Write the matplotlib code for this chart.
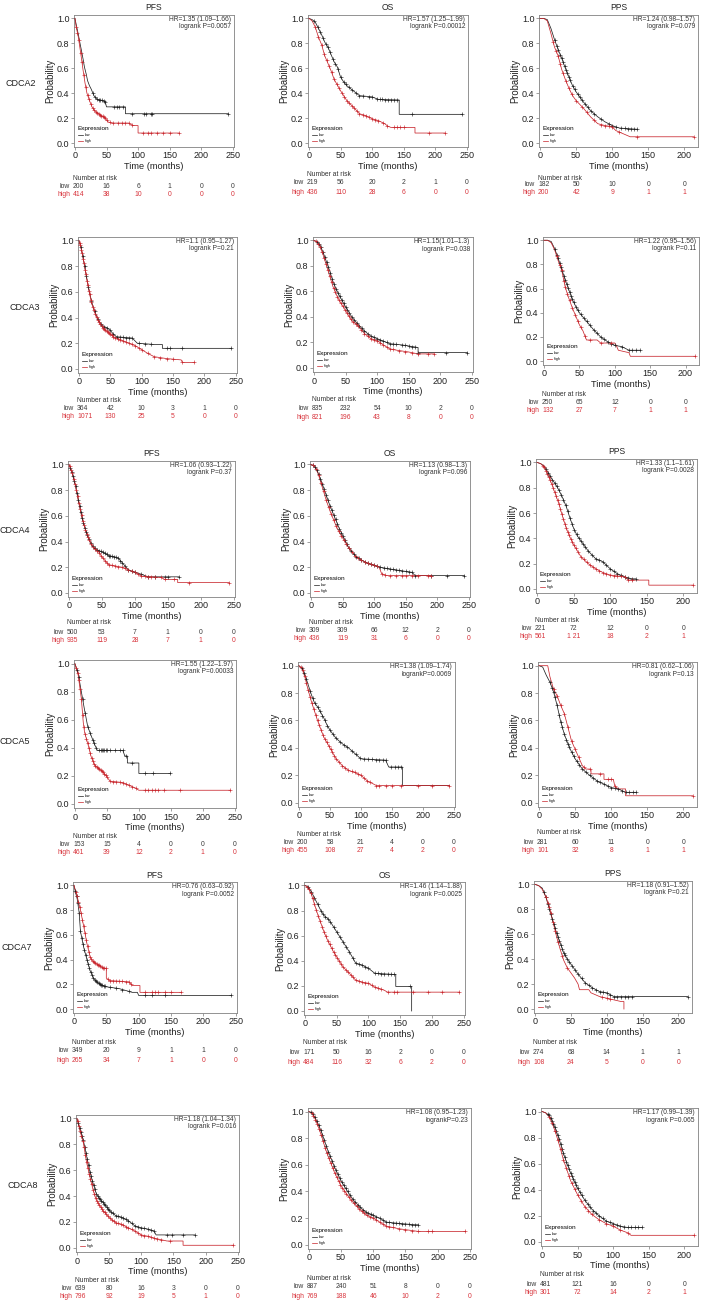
import numpy as np
import matplotlib
matplotlib.use('Agg')
import matplotlib.pyplot as plt
from matplotlib.lines import Line2D

plt.rcParams['font.family'] = ['Liberation Sans', 'DejaVu Sans']

# ---------------- data: (time in months, survival probability) ----------------
GENES = ['CDCA2', 'CDCA3', 'CDCA4', 'CDCA5', 'CDCA7', 'CDCA8']
ENDPOINTS = ['PFS', 'OS', 'PPS']
TICKS_PFS_OS = [0, 50, 100, 150, 200, 250]
TICKS_PPS = [0, 50, 100, 150, 200]

# CDCA2
CDCA2_PFS_low = [(0,1.0),(2,0.95),(5,0.88),(8,0.80),(10,0.75),(13,0.67),(15,0.61),(18,0.55),(20,0.50),(23,0.46),(26,0.43),(30,0.38),(35,0.35),(45,0.34),(48,0.33),(50,0.29),(80,0.29),(80,0.235),(243,0.235)]
CDCA2_PFS_low_cens = [28,32,35,38,40,43,46,48,62,66,70,76,90,110,112,120,122,243]
CDCA2_PFS_high = [(0,1.0),(2,0.93),(5,0.86),(8,0.76),(10,0.69),(13,0.58),(16,0.48),(19,0.40),(23,0.34),(27,0.29),(31,0.26),(36,0.24),(42,0.22),(48,0.20),(52,0.17),(58,0.16),(85,0.16),(88,0.15),(93,0.14),(100,0.14),(100,0.08),(165,0.08)]
CDCA2_PFS_high_cens = [2,4,6,9,11,14,17,20,22,25,28,30,33,35,38,40,42,44,46,48,50,55,60,68,75,80,85,90,108,115,120,130,140,150,165]
CDCA2_PFS_risk_low = [200,16,6,1,0,0]
CDCA2_PFS_risk_high = [414,38,10,0,0,0]
CDCA2_PFS_hr = ["HR=1.35 (1.09\u20131.66)", "logrank P=0.0057"]

CDCA2_OS_low = [(0,1.0),(5,0.99),(10,0.97),(15,0.92),(20,0.87),(25,0.81),(30,0.77),(35,0.71),(40,0.65),(45,0.61),(50,0.53),(55,0.49),(60,0.46),(70,0.42),(80,0.38),(100,0.37),(110,0.35),(143,0.345),(143,0.23),(243,0.23)]
CDCA2_OS_low_cens = [8,14,18,22,27,30,33,38,42,46,50,55,58,63,68,75,80,85,95,100,108,112,116,120,125,130,135,140,163,243]
CDCA2_OS_high = [(0,1.0),(5,0.98),(10,0.93),(15,0.85),(20,0.79),(25,0.70),(30,0.64),(35,0.58),(40,0.51),(50,0.42),(60,0.34),(70,0.29),(80,0.235),(90,0.22),(100,0.195),(110,0.18),(120,0.155),(125,0.135),(130,0.125),(168,0.125),(168,0.08),(215,0.08)]
CDCA2_OS_high_cens = [10,15,20,24,28,32,36,40,44,48,52,56,60,64,68,72,76,80,85,90,95,100,105,110,118,124,135,140,145,150,190,215]
CDCA2_OS_risk_low = [219,56,20,2,1,0]
CDCA2_OS_risk_high = [436,110,28,6,0,0]
CDCA2_OS_hr = ["HR=1.57 (1.25\u20131.99)", "logrank P=0.00012"]

CDCA2_PPS_low = [(0,1.0),(5,1.0),(10,0.99),(15,0.92),(20,0.83),(25,0.75),(30,0.68),(35,0.60),(40,0.53),(45,0.46),(50,0.41),(55,0.37),(60,0.33),(70,0.26),(80,0.21),(90,0.17),(100,0.14),(110,0.12),(135,0.11)]
CDCA2_PPS_low_cens = [20,23,25,28,30,32,34,36,38,40,42,45,48,52,55,58,62,66,70,75,85,95,100,105,112,118,122,126,130,135]
CDCA2_PPS_high = [(0,1.0),(5,1.0),(10,0.98),(15,0.88),(20,0.77),(25,0.70),(30,0.59),(35,0.51),(40,0.44),(45,0.38),(50,0.34),(60,0.28),(70,0.21),(80,0.155),(90,0.14),(100,0.13),(105,0.10),(115,0.075),(125,0.05),(213,0.05)]
CDCA2_PPS_high_cens = [18,22,25,28,32,36,40,44,50,58,65,75,85,90,95,100,110,135,213]
CDCA2_PPS_risk_low = [182,50,10,0,0]
CDCA2_PPS_risk_high = [200,42,9,1,1]
CDCA2_PPS_hr = ["HR=1.24 (0.98\u20131.57)", "logrank P=0.079"]

# CDCA3
CDCA3_PFS_low = [(0,1.0),(3,0.95),(6,0.88),(9,0.80),(12,0.72),(15,0.64),(18,0.57),(21,0.51),(25,0.45),(30,0.39),(35,0.35),(40,0.33),(45,0.32),(50,0.30),(55,0.27),(60,0.25),(85,0.24),(93,0.20),(120,0.19),(133,0.19),(133,0.16),(243,0.16)]
CDCA3_PFS_low_cens = [3,6,9,12,15,20,25,30,35,40,45,50,55,60,65,70,75,80,85,95,105,115,140,145,165,243]
CDCA3_PFS_high = [(0,1.0),(3,0.95),(6,0.88),(9,0.80),(12,0.71),(15,0.63),(18,0.56),(21,0.50),(25,0.44),(30,0.38),(35,0.34),(40,0.31),(45,0.29),(50,0.27),(55,0.25),(65,0.23),(80,0.20),(90,0.18),(100,0.15),(110,0.12),(120,0.095),(140,0.08),(163,0.07),(165,0.05),(183,0.05)]
CDCA3_PFS_high_cens = [1,2,4,5,7,8,10,11,13,14,16,17,19,20,22,24,26,28,30,32,34,36,38,40,42,44,46,48,50,52,55,58,62,66,70,75,80,85,90,95,100,110,120,130,140,150,165,183]
CDCA3_PFS_risk_low = [364,42,10,3,1,0]
CDCA3_PFS_risk_high = [1071,130,25,5,0,0]
CDCA3_PFS_hr = ["HR=1.1 (0.95\u20131.27)", "logrank P=0.21"]

CDCA3_OS_low = [(0,1.0),(5,0.99),(10,0.96),(15,0.90),(20,0.83),(25,0.76),(30,0.68),(35,0.62),(40,0.57),(50,0.48),(60,0.40),(70,0.34),(80,0.29),(90,0.25),(100,0.23),(120,0.19),(140,0.18),(165,0.16),(165,0.12),(243,0.12)]
CDCA3_OS_low_cens = [5,8,11,14,17,20,23,26,29,32,35,38,41,44,47,50,53,56,60,64,68,72,76,80,85,90,95,100,105,110,115,120,125,130,140,145,150,155,160,165,210,243]
CDCA3_OS_high = [(0,1.0),(5,0.99),(10,0.95),(15,0.88),(20,0.80),(25,0.72),(30,0.64),(35,0.58),(40,0.53),(50,0.45),(60,0.37),(70,0.33),(80,0.27),(90,0.23),(100,0.215),(110,0.18),(120,0.15),(130,0.14),(150,0.125),(165,0.11),(190,0.11)]
CDCA3_OS_high_cens = [4,7,10,13,16,19,22,25,28,31,34,37,40,43,46,49,52,55,58,62,66,70,75,80,85,90,95,100,105,110,115,120,125,135,145,155,165,180,190]
CDCA3_OS_risk_low = [835,232,54,10,2,0]
CDCA3_OS_risk_high = [821,196,43,8,0,0]
CDCA3_OS_hr = ["HR=1.15(1.01\u20131.3)", "logrank P=0.038"]

CDCA3_PPS_low = [(0,1.0),(5,1.0),(10,0.99),(15,0.93),(20,0.85),(25,0.76),(30,0.67),(35,0.59),(40,0.51),(45,0.45),(50,0.40),(60,0.33),(70,0.26),(80,0.20),(90,0.16),(100,0.13),(110,0.12),(120,0.09),(135,0.09)]
CDCA3_PPS_low_cens = [15,18,20,22,24,26,28,30,32,34,36,38,40,42,45,48,52,56,60,65,70,75,80,85,90,95,100,110,120,125,130,135]
CDCA3_PPS_high = [(0,1.0),(5,1.0),(10,0.98),(15,0.92),(20,0.83),(25,0.75),(30,0.61),(35,0.52),(40,0.44),(45,0.37),(50,0.30),(55,0.25),(60,0.175),(75,0.175),(80,0.15),(100,0.15),(102,0.13),(105,0.09),(120,0.07),(122,0.04),(213,0.04)]
CDCA3_PPS_high_cens = [18,22,25,28,30,33,36,40,44,48,52,58,65,80,95,213]
CDCA3_PPS_risk_low = [250,65,12,0,0]
CDCA3_PPS_risk_high = [132,27,7,1,1]
CDCA3_PPS_hr = ["HR=1.22 (0.95\u20131.56)", "logrank P=0.11"]

# CDCA4
CDCA4_PFS_low = [(0,1.0),(5,0.93),(10,0.83),(15,0.70),(20,0.58),(25,0.49),(30,0.42),(35,0.37),(40,0.34),(45,0.33),(50,0.32),(60,0.29),(70,0.28),(75,0.27),(80,0.24),(90,0.18),(100,0.16),(110,0.145),(120,0.125),(167,0.125)]
CDCA4_PFS_low_cens = [2,4,6,8,10,12,14,16,18,20,22,24,26,28,30,33,36,39,42,45,48,51,54,57,60,63,66,69,72,75,78,81,85,90,95,100,110,120,130,145,150,167]
CDCA4_PFS_high = [(0,1.0),(5,0.93),(10,0.83),(15,0.70),(20,0.58),(25,0.49),(30,0.42),(35,0.37),(40,0.34),(45,0.32),(50,0.28),(60,0.22),(70,0.21),(80,0.20),(90,0.18),(100,0.16),(110,0.13),(140,0.12),(145,0.105),(165,0.105),(165,0.08),(243,0.08)]
CDCA4_PFS_high_cens = [1,3,5,7,9,11,13,15,17,19,21,23,25,27,29,31,34,37,40,43,46,49,52,55,58,61,65,70,75,80,85,90,95,100,105,110,115,120,125,130,140,145,160,182,243]
CDCA4_PFS_risk_low = [500,53,7,1,0,0]
CDCA4_PFS_risk_high = [935,119,28,7,1,0]
CDCA4_PFS_hr = ["HR=1.06 (0.93\u20131.22)", "logrank P=0.37"]

CDCA4_OS_low = [(0,1.0),(5,0.99),(10,0.95),(15,0.89),(20,0.82),(25,0.75),(30,0.68),(35,0.62),(40,0.56),(45,0.50),(50,0.45),(60,0.35),(70,0.29),(80,0.255),(90,0.23),(100,0.215),(110,0.20),(120,0.19),(140,0.175),(160,0.16),(165,0.135),(243,0.135)]
CDCA4_OS_low_cens = [3,6,9,12,15,18,21,24,27,30,33,36,39,42,45,48,51,54,57,60,64,68,72,76,80,85,90,95,100,105,110,115,120,125,130,135,140,145,150,155,160,165,190,215,243]
CDCA4_OS_high = [(0,1.0),(5,0.99),(10,0.95),(15,0.87),(20,0.79),(25,0.71),(30,0.64),(35,0.58),(40,0.52),(45,0.47),(50,0.43),(60,0.35),(70,0.29),(80,0.255),(90,0.23),(100,0.215),(108,0.20),(112,0.15),(120,0.135),(190,0.135)]
CDCA4_OS_high_cens = [4,8,12,16,20,24,28,32,36,40,44,48,52,56,60,65,70,75,80,85,90,95,100,105,112,118,125,135,145,150,160,170,185,190]
CDCA4_OS_risk_low = [309,309,66,12,2,0]
CDCA4_OS_risk_high = [436,119,31,6,0,0]
CDCA4_OS_hr = ["HR=1.13 (0.98\u20131.3)", "logrank P=0.096"]

CDCA4_PPS_low = [(0,1.0),(5,0.99),(10,0.97),(15,0.92),(20,0.87),(25,0.83),(30,0.78),(35,0.72),(40,0.65),(45,0.56),(50,0.48),(55,0.42),(60,0.38),(70,0.30),(80,0.24),(90,0.215),(100,0.16),(110,0.12),(120,0.095),(130,0.08),(135,0.08)]
CDCA4_PPS_low_cens = [12,15,18,21,24,27,30,33,36,39,42,45,48,51,54,57,60,63,66,70,75,80,85,90,95,100,105,110,115,120,125,130,135]
CDCA4_PPS_high = [(0,1.0),(5,0.99),(10,0.96),(15,0.90),(20,0.83),(25,0.75),(30,0.67),(35,0.57),(40,0.48),(45,0.41),(50,0.35),(60,0.255),(70,0.20),(80,0.16),(90,0.13),(100,0.11),(120,0.095),(125,0.07),(153,0.07),(153,0.03),(213,0.03)]
CDCA4_PPS_high_cens = [8,10,12,14,16,18,20,22,24,26,28,30,32,34,36,38,40,42,44,46,48,50,53,56,60,64,68,72,76,80,85,90,95,100,105,110,115,120,125,130,213]
CDCA4_PPS_risk_low = [221,72,12,0,0]
CDCA4_PPS_risk_high = ['561','1 21','18','2','1']
CDCA4_PPS_hr = ["HR=1.33 (1.1\u20131.61)", "logrank P=0.0028"]

# CDCA5
CDCA5_PFS_low = [(0,1.0),(5,0.93),(10,0.80),(15,0.67),(20,0.55),(25,0.49),(30,0.43),(35,0.38),(75,0.38),(78,0.34),(82,0.34),(82,0.29),(100,0.29),(100,0.215),(148,0.215)]
CDCA5_PFS_low_cens = [3,6,12,16,20,24,28,30,33,38,40,42,44,46,48,50,55,62,70,75,80,90,110,122,148]
CDCA5_PFS_high = [(0,1.0),(5,0.92),(10,0.75),(13,0.58),(15,0.51),(20,0.43),(25,0.34),(30,0.28),(35,0.26),(40,0.24),(45,0.22),(50,0.19),(55,0.16),(75,0.15),(85,0.13),(95,0.11),(100,0.095),(243,0.095)]
CDCA5_PFS_high_cens = [2,4,6,8,10,12,14,16,18,20,22,24,26,28,30,32,34,36,38,40,42,44,46,48,50,55,60,65,70,75,80,85,90,95,110,115,120,125,130,140,165,243]
CDCA5_PFS_risk_low = [153,15,4,0,0,0]
CDCA5_PFS_risk_high = [461,39,12,2,1,0]
CDCA5_PFS_hr = ["HR=1.55 (1.22\u20131.97)", "logrank P=0.00033"]

CDCA5_OS_low = [(0,1.0),(5,0.98),(10,0.93),(15,0.86),(20,0.79),(25,0.73),(30,0.70),(35,0.66),(40,0.62),(45,0.57),(50,0.53),(60,0.47),(70,0.43),(80,0.40),(90,0.36),(100,0.32),(140,0.31),(145,0.26),(167,0.26),(167,0.125),(243,0.125)]
CDCA5_OS_low_cens = [5,8,12,18,22,26,30,34,38,42,46,50,55,60,66,72,78,85,92,98,105,112,118,125,130,135,140,148,155,160,165]
CDCA5_OS_high = [(0,1.0),(5,0.98),(10,0.91),(15,0.82),(20,0.74),(25,0.67),(30,0.60),(35,0.54),(40,0.48),(45,0.44),(50,0.40),(60,0.32),(70,0.27),(80,0.235),(90,0.22),(100,0.20),(110,0.16),(125,0.125),(243,0.125)]
CDCA5_OS_high_cens = [3,6,9,12,15,18,21,24,27,30,33,36,39,42,45,48,51,54,57,60,65,70,75,80,85,90,95,100,105,110,115,125,130,140,150,165,192,215,243]
CDCA5_OS_risk_low = [200,58,21,4,0,0]
CDCA5_OS_risk_high = [455,108,27,4,2,0]
CDCA5_OS_hr = ["HR=1.38 (1.09\u20131.74)", "logrankP=0.0069"]

CDCA5_PPS_low = [(0,1.0),(5,0.99),(10,0.93),(15,0.88),(20,0.81),(25,0.71),(30,0.59),(35,0.50),(40,0.43),(45,0.37),(50,0.32),(60,0.245),(70,0.20),(80,0.16),(90,0.135),(100,0.11),(110,0.10),(120,0.075),(135,0.075)]
CDCA5_PPS_low_cens = [15,18,20,22,25,28,30,32,35,38,40,42,45,48,52,56,60,65,70,75,80,85,90,95,100,105,110,115,120,125,130,135]
CDCA5_PPS_high = [(0,1.0),(12,1.0),(15,0.92),(20,0.83),(25,0.78),(30,0.71),(35,0.65),(40,0.55),(45,0.45),(50,0.39),(55,0.33),(60,0.27),(65,0.245),(72,0.245),(72,0.21),(90,0.21),(90,0.17),(103,0.17),(105,0.12),(110,0.10),(120,0.10),(120,0.05),(213,0.05)]
CDCA5_PPS_high_cens = [20,25,30,35,40,45,50,55,62,70,85,95,100,105,213]
CDCA5_PPS_risk_low = [281,60,11,0,0]
CDCA5_PPS_risk_high = [101,32,8,1,1]
CDCA5_PPS_hr = ["HR=0.81 (0.62\u20131.06)", "logrank P=0.13"]

# CDCA7
CDCA7_PFS_low = [(0,1.0),(3,0.93),(5,0.89),(8,0.78),(10,0.63),(13,0.55),(15,0.50),(20,0.40),(25,0.31),(30,0.25),(35,0.22),(40,0.20),(50,0.18),(70,0.165),(80,0.15),(90,0.135),(98,0.135),(100,0.11),(243,0.11)]
CDCA7_PFS_low_cens = [2,4,6,8,10,12,14,16,18,20,22,24,26,28,30,32,34,36,38,40,42,44,46,48,55,65,75,85,110,120,140,243]
CDCA7_PFS_high = [(0,1.0),(5,0.91),(10,0.80),(15,0.67),(20,0.53),(25,0.42),(30,0.38),(40,0.35),(45,0.33),(50,0.33),(50,0.25),(55,0.23),(85,0.22),(90,0.19),(102,0.19),(102,0.135),(165,0.135)]
CDCA7_PFS_high_cens = [3,5,7,9,11,13,15,17,19,21,23,25,27,29,31,33,35,37,39,41,43,45,47,49,52,56,60,65,70,75,80,85,88,110,120,125,130,140,150,165]
CDCA7_PFS_risk_low = [349,20,9,1,1,0]
CDCA7_PFS_risk_high = [265,34,7,1,0,0]
CDCA7_PFS_hr = ["HR=0.76 (0.63\u20130.92)", "logrank P=0.0052"]

CDCA7_OS_low = [(0,1.0),(5,0.99),(10,0.95),(15,0.90),(20,0.85),(25,0.80),(30,0.76),(35,0.74),(40,0.71),(50,0.63),(60,0.55),(70,0.47),(80,0.38),(90,0.365),(100,0.34),(110,0.30),(143,0.29),(143,0.195),(168,0.195),(168,0.0)]
CDCA7_OS_low_cens = [5,10,15,20,25,28,32,36,40,45,50,55,60,65,70,75,80,85,90,95,100,110,115,120,125,130,135,140,165]
CDCA7_OS_high = [(0,1.0),(5,0.98),(10,0.93),(15,0.85),(20,0.77),(25,0.70),(30,0.63),(35,0.57),(40,0.52),(45,0.47),(50,0.43),(60,0.35),(70,0.30),(80,0.245),(90,0.23),(100,0.22),(110,0.19),(125,0.165),(130,0.15),(243,0.15)]
CDCA7_OS_high_cens = [3,6,9,12,15,18,21,24,27,30,33,36,39,42,45,48,51,54,57,60,64,68,72,76,80,85,90,95,100,105,110,115,120,130,140,145,170,193,215,243]
CDCA7_OS_risk_low = [171,50,16,2,0,0]
CDCA7_OS_risk_high = [484,116,32,6,2,0]
CDCA7_OS_hr = ["HR=1.46 (1.14\u20131.88)", "logrank P=0.0025"]

CDCA7_PPS_low = [(0,1.0),(5,0.99),(10,0.97),(15,0.90),(20,0.80),(25,0.70),(30,0.61),(35,0.53),(40,0.45),(45,0.40),(50,0.36),(60,0.28),(70,0.21),(80,0.17),(90,0.14),(100,0.13),(110,0.10),(213,0.10)]
CDCA7_PPS_low_cens = [12,15,18,20,22,24,26,28,30,32,34,36,38,40,42,45,48,52,56,60,65,70,75,80,85,90,95,100,105,110,115,120,125,130,135,213]
CDCA7_PPS_high = [(0,1.0),(5,0.99),(10,0.96),(15,0.90),(20,0.82),(25,0.70),(30,0.58),(35,0.48),(40,0.39),(45,0.33),(50,0.29),(55,0.25),(60,0.20),(62,0.155),(75,0.155),(78,0.13),(90,0.10),(120,0.06),(124,0.06),(124,0.0)]
CDCA7_PPS_high_cens = [15,18,20,22,25,28,32,38,45,93,100,105]
CDCA7_PPS_risk_low = [274,68,14,1,1]
CDCA7_PPS_risk_high = [108,24,5,0,0]
CDCA7_PPS_hr = ["HR=1.18 (0.91\u20131.52)", "logrank P=0.21"]

# CDCA8
CDCA8_PFS_low = [(0,1.0),(5,0.91),(10,0.83),(15,0.71),(20,0.59),(25,0.50),(30,0.42),(35,0.38),(40,0.355),(50,0.29),(60,0.25),(70,0.235),(80,0.21),(90,0.17),(100,0.155),(110,0.145),(120,0.13),(123,0.10),(183,0.10)]
CDCA8_PFS_low_cens = [2,4,6,8,10,12,14,16,18,20,22,24,26,28,30,32,34,36,38,40,42,44,46,48,50,53,56,60,64,68,72,76,80,85,90,95,100,105,110,115,120,140,148,165,183]
CDCA8_PFS_high = [(0,1.0),(5,0.90),(10,0.81),(15,0.66),(20,0.55),(25,0.45),(30,0.37),(35,0.33),(40,0.29),(50,0.235),(60,0.195),(70,0.18),(80,0.155),(90,0.13),(100,0.10),(110,0.09),(120,0.075),(140,0.053),(165,0.053),(165,0.02),(243,0.02)]
CDCA8_PFS_high_cens = [1,3,5,7,9,11,13,15,17,19,21,23,25,27,29,31,33,35,37,39,41,43,45,48,51,54,57,60,64,68,72,76,80,85,90,95,100,105,110,115,120,125,130,145,243]
CDCA8_PFS_risk_low = [639,80,16,3,0,0]
CDCA8_PFS_risk_high = [796,92,19,5,1,0]
CDCA8_PFS_hr = ["HR=1.18 (1.04\u20131.34)", "logrank P=0.016"]

CDCA8_OS_low = [(0,1.0),(5,0.99),(10,0.95),(15,0.90),(20,0.84),(25,0.77),(30,0.70),(35,0.64),(40,0.58),(50,0.48),(60,0.40),(70,0.33),(80,0.28),(90,0.24),(100,0.22),(110,0.20),(120,0.17),(140,0.16),(165,0.15),(170,0.15)]
CDCA8_OS_low_cens = [3,6,9,12,15,18,21,24,27,30,33,36,39,42,45,48,51,54,57,60,64,68,72,76,80,84,88,92,96,100,105,110,115,120,125,130,135,140,145,150,155,160,165,170]
CDCA8_OS_high = [(0,1.0),(5,0.99),(10,0.94),(15,0.88),(20,0.81),(25,0.73),(30,0.66),(35,0.60),(40,0.54),(50,0.44),(60,0.37),(70,0.31),(80,0.26),(90,0.22),(100,0.20),(110,0.17),(120,0.14),(140,0.12),(170,0.10),(243,0.10)]
CDCA8_OS_high_cens = [4,7,10,13,16,19,22,25,28,31,34,37,40,43,46,49,52,55,58,62,66,70,74,78,82,86,90,95,100,105,110,115,120,125,130,140,150,160,170,185,192,243]
CDCA8_OS_risk_low = [887,240,51,8,0,0]
CDCA8_OS_risk_high = [769,188,46,10,2,0]
CDCA8_OS_hr = ["HR=1.08 (0.95\u20131.23)", "logrankP=0.23"]

CDCA8_PPS_low = [(0,1.0),(5,0.99),(10,0.97),(15,0.92),(20,0.85),(25,0.77),(30,0.68),(35,0.60),(40,0.53),(50,0.41),(60,0.32),(70,0.25),(80,0.20),(90,0.16),(100,0.14),(110,0.12),(120,0.11),(140,0.11)]
CDCA8_PPS_low_cens = [8,10,12,14,16,18,20,22,24,26,28,30,32,34,36,38,40,42,44,46,48,50,53,56,60,64,68,72,76,80,85,90,95,100,105,110,115,120,125,130,135,140]
CDCA8_PPS_high = [(0,1.0),(5,0.99),(10,0.96),(15,0.90),(20,0.82),(25,0.73),(30,0.63),(35,0.55),(40,0.47),(50,0.36),(60,0.27),(70,0.21),(80,0.17),(90,0.14),(100,0.12),(110,0.09),(120,0.07),(125,0.05),(213,0.05)]
CDCA8_PPS_high_cens = [10,14,18,22,26,30,34,38,42,46,50,55,60,65,70,80,90,100,110,120,213]
CDCA8_PPS_risk_low = [481,121,16,0,0]
CDCA8_PPS_risk_high = [301,72,14,2,1]
CDCA8_PPS_hr = ["HR=1.17 (0.99\u20131.39)", "logrank P=0.065"]

# ---------------- layout (pixel boxes: left, top, right, bottom) ----------------
W, H = 705, 1301
RECTS = {
    'CDCA2': [(74, 15, 234, 147), (308, 15, 468, 147), (539, 15, 698, 147)],
    'CDCA3': [(78, 237, 237, 373), (313, 237, 473, 372), (543, 237, 699, 365)],
    'CDCA4': [(68, 461, 235, 597), (310, 461, 470, 597), (536, 459, 697, 593)],
    'CDCA5': [(74, 660, 236, 808), (298, 662, 455, 807), (538, 662, 697, 807)],
    'CDCA7': [(73, 882, 237, 1013), (304, 882, 465, 1015), (534, 881, 692, 1013)],
    'CDCA8': [(76, 1115, 239, 1252), (308, 1108, 471, 1249), (541, 1108, 698, 1246)],
}
RISK_OFFS = {
    'CDCA2': [(31, 39, 47), (27, 36, 45), (32, 38, 46)],
    'CDCA3': [(28, 36, 44), (27, 36, 45), (29, 38, 46)],
    'CDCA4': [(26, 35, 44), (26, 34, 42), (27, 35, 44)],
    'CDCA5': [(28, 36, 44), (27, 36, 44), (26, 35, 43)],
    'CDCA7': [(30, 38, 47), (28, 38, 47), (30, 40, 49)],
    'CDCA8': [(28, 36, 45), (29, 38, 47), (29, 38, 47)],
}
GENE_POS = {'CDCA2': (5, 83), 'CDCA3': (9, 308), 'CDCA4': (0, 531),
            'CDCA5': (0, 741), 'CDCA7': (2, 948), 'CDCA8': (7, 1186)}
TITLED = {'CDCA2', 'CDCA4', 'CDCA7'}

LOW_C = '#1e1e1e'
HIGH_C = '#c8242b'
RISK_LOW_C = '#3a3a3a'
RISK_HIGH_C = '#d8343c'
SPINE_C = '#8a8a8a'
TXT_C = '#222222'

fig = plt.figure(figsize=(W / 72, H / 72), dpi=72)
fig.patch.set_facecolor('white')

g = globals()


def draw_curve(ax, pairs, cens, color):
    arr = np.array(pairs, dtype=float)
    t, s = arr[:, 0], arr[:, 1]
    ax.plot(t, s, color=color, lw=0.75, solid_joinstyle='miter', zorder=3)
    c = np.array(cens, dtype=float)
    cy = np.interp(c, t, s)
    ax.plot(c, cy, ls='none', marker='+', ms=4, mew=0.6, color=color, zorder=4)


for gene in GENES:
    gx, gy = GENE_POS[gene]
    fig.text(gx / W, 1 - gy / H, gene, fontsize=9, ha='left', va='center', color=TXT_C)
    for j, ep in enumerate(ENDPOINTS):
        x0, y0, x1, y1 = RECTS[gene][j]
        ax = fig.add_axes([x0 / W, 1 - y1 / H, (x1 - x0) / W, (y1 - y0) / H])
        key = f'{gene}_{ep}'
        draw_curve(ax, g[key + '_low'], g[key + '_low_cens'], LOW_C)
        draw_curve(ax, g[key + '_high'], g[key + '_high_cens'], HIGH_C)

        ticks = TICKS_PPS if ep == 'PPS' else TICKS_PFS_OS
        ax.set_xlim(-1.5, 219 if ep == 'PPS' else 252)
        ax.set_ylim(-0.032, 1.027)
        ax.set_xticks(ticks)
        ax.set_yticks([0.0, 0.2, 0.4, 0.6, 0.8, 1.0])
        ax.set_yticklabels(['0.0', '0.2', '0.4', '0.6', '0.8', '1.0'])
        for sp in ax.spines.values():
            sp.set_color(SPINE_C)
            sp.set_linewidth(0.9)
        ax.tick_params(axis='both', direction='out', length=3, width=0.8, color=SPINE_C,
                       labelsize=9, pad=1.5, labelcolor=TXT_C)
        ax.set_xlabel('Time (months)', fontsize=9.3, labelpad=1.5, color=TXT_C)
        ax.set_ylabel('Probability', fontsize=9.5, labelpad=2, color=TXT_C)
        if gene in TITLED:
            ax.set_title(ep, fontsize=8.5, pad=4.5, color=TXT_C)

        hr_lines = g[key + '_hr']
        ax.annotate(hr_lines[0], xy=(1, 1), xycoords='axes fraction', xytext=(-3, -4.5),
                    textcoords='offset points', ha='right', va='center', fontsize=6.6, color='#333333')
        ax.annotate(hr_lines[1], xy=(1, 1), xycoords='axes fraction', xytext=(-3, -12),
                    textcoords='offset points', ha='right', va='center', fontsize=6.6, color='#333333')

        handles = [Line2D([], [], color=LOW_C, lw=0.7), Line2D([], [], color=HIGH_C, lw=0.7)]
        ax.legend(handles, ['low', 'high'], title='Expression', loc='lower left',
                  frameon=False, fontsize=3.6, title_fontsize=6.4, handlelength=1.6,
                  handletextpad=0.5, labelspacing=0.6, borderpad=0.2, borderaxespad=0.8,
                  alignment='left')

        o_nar, o_low, o_high = RISK_OFFS[gene][j]
        ax.annotate('Number at risk', xy=(0, 0), xycoords=('data', 'axes fraction'),
                    xytext=(-2, -o_nar), textcoords='offset points', ha='left', va='center',
                    fontsize=6.8, color='#333333', annotation_clip=False)
        ax.annotate('low', xy=(0, 0), xycoords=('data', 'axes fraction'),
                    xytext=(-5, -o_low), textcoords='offset points', ha='right', va='center',
                    fontsize=6.8, color=RISK_LOW_C, annotation_clip=False)
        ax.annotate('high', xy=(0, 0), xycoords=('data', 'axes fraction'),
                    xytext=(-5, -o_high), textcoords='offset points', ha='right', va='center',
                    fontsize=6.8, color=RISK_HIGH_C, annotation_clip=False)
        for rk, off, col in ((key + '_risk_low', o_low, RISK_LOW_C), (key + '_risk_high', o_high, RISK_HIGH_C)):
            for i, (tk, v) in enumerate(zip(ticks, g[rk])):
                ax.annotate(str(v), xy=(tk, 0), xycoords=('data', 'axes fraction'),
                            xytext=(-2 if i == 0 else 0, -off), textcoords='offset points',
                            ha='left' if i == 0 else 'center', va='center', fontsize=6.8,
                            color=col, annotation_clip=False)

fig.savefig('out.png', dpi=72, facecolor='white')
